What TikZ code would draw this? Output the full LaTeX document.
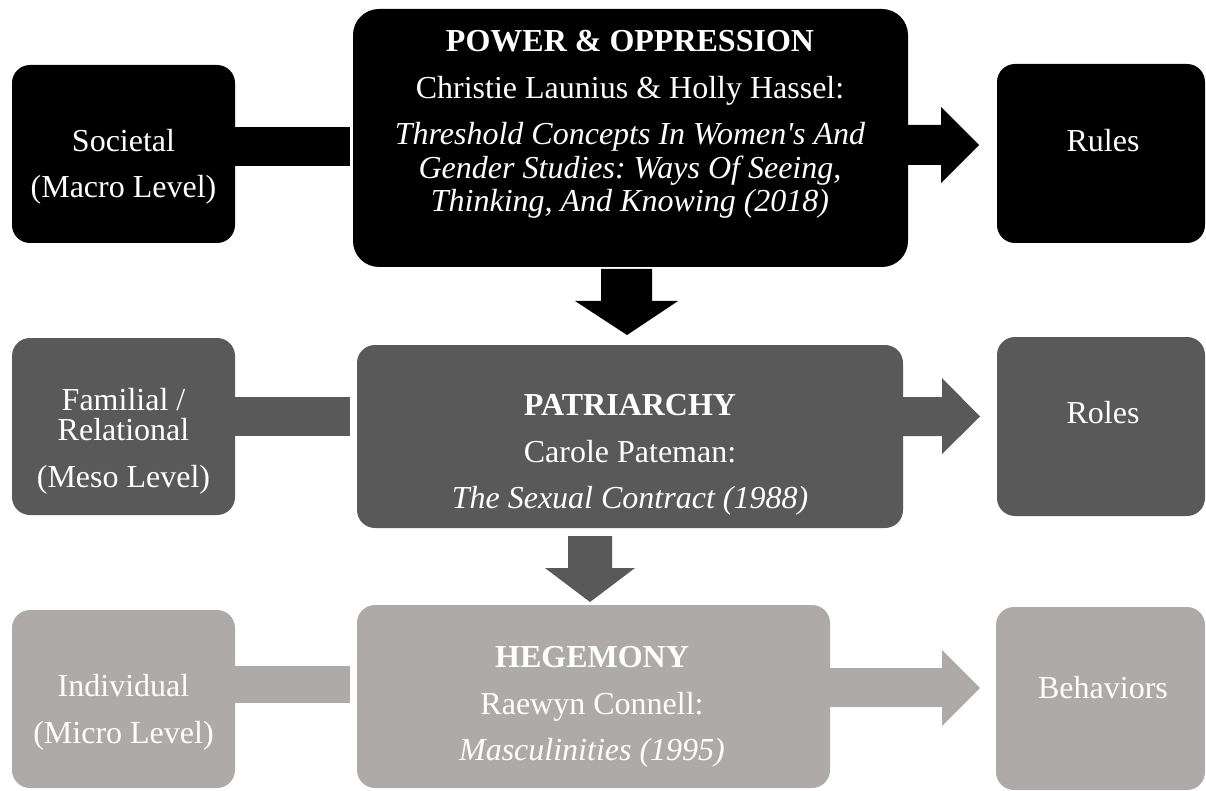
\documentclass[tikz,border=0pt]{standalone}
\usepackage{fontspec}
\newfontfamily\dfont{Liberation Serif}
\usetikzlibrary{calc}
\definecolor{lvlA}{HTML}{000000}
\definecolor{lvlB}{HTML}{595959}
\definecolor{lvlC}{HTML}{AEAAAA}
\frenchspacing
\tikzset{
  panel/.style={fill=#1, rounded corners=18pt, inner sep=0pt, outer sep=0pt},
  txt/.style={text=white, font=\dfont\fontsize{32}{34}\selectfont, anchor=base, inner sep=0pt},
}
\begin{document}
\begin{tikzpicture}[x=1pt,y=-1pt]
\useasboundingbox (0,0) rectangle (1206,791);

% level boxes, left column
\node[panel=lvlA, minimum width=223pt, minimum height=178pt] (s1) at (123.5,154) {};
\node[panel=lvlB, minimum width=223pt, minimum height=177pt] (s2) at (123.5,426.5) {};
\node[panel=lvlC, minimum width=223pt, minimum height=178pt] (s3) at (123.5,699) {};

% theory boxes, middle column
\node[panel=lvlA, rounded corners=26pt, minimum width=555pt, minimum height=258pt] (m1) at (630.5,138) {};
\node[panel=lvlB, minimum width=546pt, minimum height=183pt] (m2) at (630,436.5) {};
\node[panel=lvlC, minimum width=473pt, minimum height=183pt] (m3) at (593.5,696.5) {};

% outcome boxes, right column
\node[panel=lvlA, minimum width=208pt, minimum height=179pt] (r1) at (1101,153.5) {};
\node[panel=lvlB, minimum width=208pt, minimum height=179pt] (r2) at (1101,426.5) {};
\node[panel=lvlC, minimum width=209pt, minimum height=183pt] (r3) at (1100.5,698.5) {};

% plain bars joining level boxes to theory boxes
\fill[lvlA] (s1.east |- 0,127) rectangle ($(m1.west |- 0,166)+(-3,0)$);
\fill[lvlB] (s2.east |- 0,397) rectangle ($(m2.west |- 0,436)+(-7,0)$);
\fill[lvlC] (s3.east |- 0,666) rectangle ($(m3.west |- 0,703)+(-7,0)$);

% block arrows towards the outcome boxes
\fill[lvlA] (m1.east |- 0,125) -- ($(r1.west |- 0,125)+(-56,0)$) -- ++(0,-18)
  -- ($(r1.west |- 0,145)+(-18,0)$) -- ($(r1.west |- 0,183)+(-56,0)$) -- ++(0,-18)
  -- (m1.east |- 0,165) -- cycle;
\fill[lvlB] (m2.east |- 0,397) -- ($(r2.west |- 0,397)+(-55,0)$) -- ++(0,-19)
  -- ($(r2.west |- 0,416.5)+(-17,0)$) -- ($(r2.west |- 0,454)+(-55,0)$) -- ++(0,-18)
  -- (m2.east |- 0,436) -- cycle;
\fill[lvlC] (m3.east |- 0,668) -- ($(r3.west |- 0,668)+(-54,0)$) -- ++(0,-18)
  -- ($(r3.west |- 0,688)+(-16,0)$) -- ($(r3.west |- 0,726)+(-54,0)$) -- ++(0,-19)
  -- (m3.east |- 0,707) -- cycle;

% block arrows down the middle column
\fill[lvlA] ($(m1.south)+(-29.5,2)$) -- ++(51,0) -- ++(0,32) -- ++(26,0)
  -- ($(m2.north)+(-3,-10)$) -- ($(m2.north)+(-55,-44)$) -- ++(26,0) -- cycle;
\fill[lvlB] ($(m2.south)+(-62,8)$) -- ++(44,0) -- ++(0,32) -- ++(23,0)
  -- ($(m3.north)+(-3.5,-3)$) -- ($(m3.north)+(-48.5,-37)$) -- ++(23,0) -- cycle;

% texts, left column
\node[txt] (s1a) at (123.5,152) {Societal};
\node[txt] (s1b) at (123.5,198) {(Macro Level)};
\node[txt] (s2a) at (123.5,410) {Familial /};
\node[txt] (s2b) at (123.5,440) {Relational};
\node[txt] (s2c) at (123.5,487) {(Meso Level)};
\node[txt] (s3a) at (123.5,696) {Individual};
\node[txt] (s3b) at (123.5,743) {(Micro Level)};

% texts, middle column
\node[txt] (m1a) at (630,52) {\bfseries POWER \& OPPRESSION};
\node[txt] (m1b) at (630,99) {Christie Launius \& Holly Hassel:};
\node[txt] (m1c) at (630,145) {\itshape Threshold Concepts In Women's And};
\node[txt] (m1d) at (630,179) {\itshape Gender Studies: Ways Of Seeing,};
\node[txt] (m1e) at (630,212) {\itshape Thinking, And Knowing (2018)};
\node[txt] (m2a) at (630,415) {\bfseries PATRIARCHY};
\node[txt] (m2b) at (630,462) {Carole Pateman:};
\node[txt] (m2c) at (630,508) {\itshape The Sexual Contract (1988)};
\node[txt] (m3a) at (592,667) {\bfseries HEGEMONY};
\node[txt] (m3b) at (592,714) {Raewyn Connell:};
\node[txt] (m3c) at (592,760) {\itshape Masculinities (1995)};

% texts, right column
\node[txt] (r1a) at (1103,152) {Rules};
\node[txt] (r2a) at (1103,423) {Roles};
\node[txt] (r3a) at (1103,698) {Behaviors};
\end{tikzpicture}
\end{document}
